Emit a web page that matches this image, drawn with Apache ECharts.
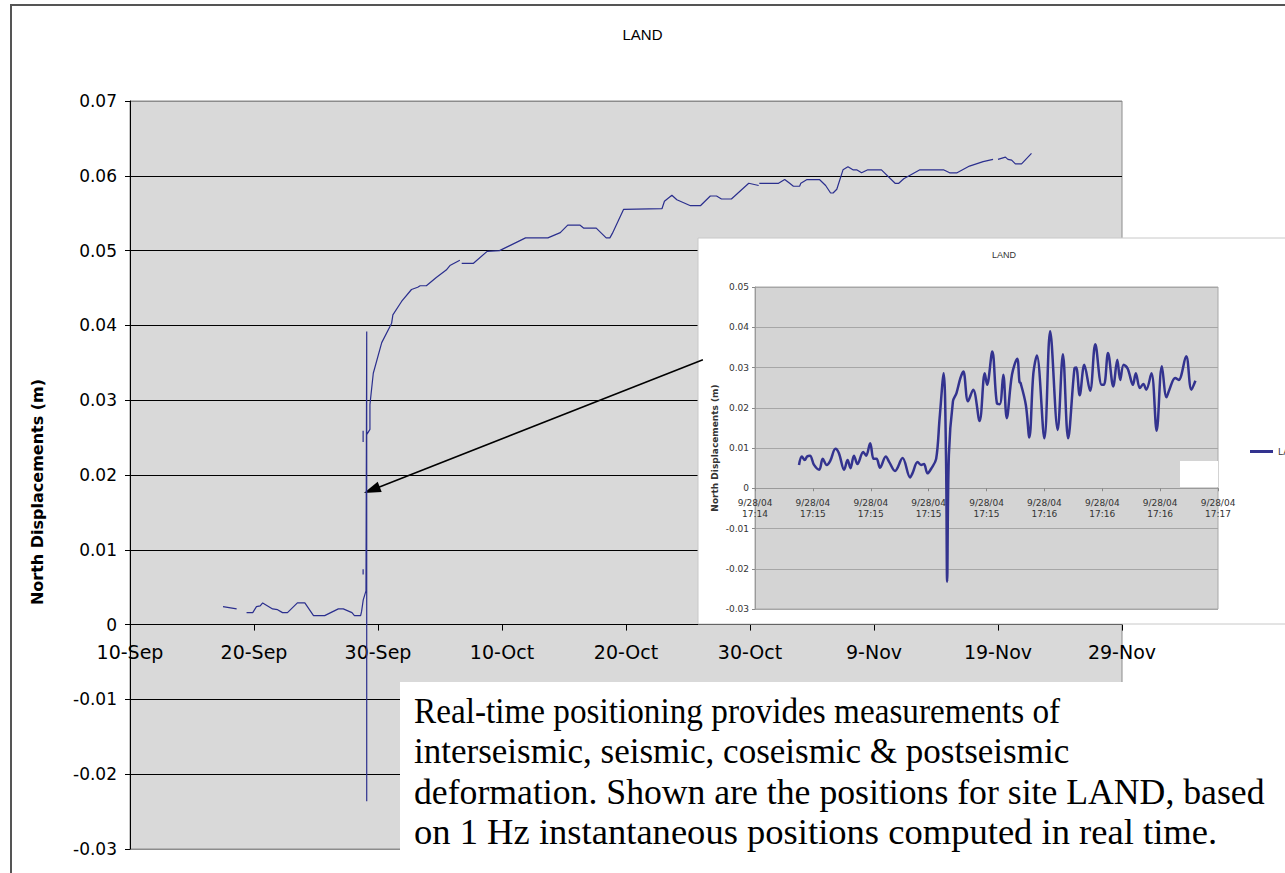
<!DOCTYPE html>
<html><head><meta charset="utf-8">
<script src="https://cdn.jsdelivr.net/npm/echarts/dist/echarts.min.js"></script>
<style>html,body{margin:0;padding:0;background:#fff}#c{width:1285px;height:873px}</style>
</head><body><div id="c"></div>
<script>
// ---------- main chart (days since 10-Sep-2004, north displacement in m) ----------
const xTickLabels = ['10-Sep','20-Sep','30-Sep','10-Oct','20-Oct','30-Oct','9-Nov','19-Nov','29-Nov'];
const yTickLabels = ['-0.03','-0.02','-0.01','0','0.01','0.02','0.03','0.04','0.05','0.06','0.07'];

const preEventShort = [[7.5,0.0024],[8.6,0.0021]];
const interseismic = [[9.4,0.0016],[9.9,0.0016],[10.2,0.0024],[10.5,0.0025],[10.7,0.0029],[11.1,0.0025],[11.5,0.0021],[11.9,0.0020],[12.3,0.0016],[12.7,0.0016],[13.5,0.0029],[14.1,0.0029],[14.8,0.0012],[15.7,0.0012],[16.8,0.0021],[17.2,0.0021],[17.9,0.0016],[18.1,0.0012],[18.6,0.0012],[18.68,0.0018],[18.81,0.0033],[19.03,0.0045]];
const coseismic = [[19.09,0.0392],[19.09,-0.0236],[19.09,0.0254]];
const postseismicA = [[19.35,0.0261],[19.35,0.0294],[19.62,0.0336],[20.3,0.0377],[21.1,0.0403],[21.2,0.0414],[21.9,0.0432],[22.7,0.0448],[23.2,0.0451],[23.4,0.0453],[23.9,0.0453],[24.7,0.0464],[25.5,0.0474],[25.8,0.0480],[26.6,0.0487]];
const postseismicB = [[26.75,0.0483],[27.7,0.0483],[28.8,0.0499],[29.8,0.0500],[31.9,0.0517],[33.7,0.0517],[34.7,0.0524],[35.3,0.0534],[36.3,0.0534],[36.6,0.0530],[37.6,0.0530],[38.4,0.0517],[38.7,0.0517],[38.9,0.0523],[39.8,0.0555],[42.9,0.0556],[43.1,0.0566],[43.7,0.0574],[44.1,0.0568],[45.2,0.0560],[46.0,0.0560],[46.8,0.0573],[47.3,0.0573],[47.7,0.0569],[48.5,0.0569],[49.9,0.0590],[50.7,0.0587]];
const postseismicC = [[50.75,0.0590],[52.3,0.0590],[52.8,0.0595],[53.2,0.0590],[53.5,0.0586],[54.0,0.0586],[54.1,0.0590],[54.6,0.0595],[55.6,0.0595],[56.1,0.0587],[56.5,0.0577],[56.7,0.0577],[57.0,0.0582],[57.5,0.0608],[57.9,0.0612],[58.3,0.0608],[58.6,0.0608],[59.0,0.0604],[59.5,0.0608],[60.6,0.0608],[61.7,0.0590],[62.0,0.0590],[62.4,0.0596],[63.7,0.0608],[65.6,0.0608],[66.1,0.0604],[66.7,0.0604],[67.7,0.0613],[68.8,0.0619],[69.6,0.0622]];
const postseismicD = [[70.0,0.0622],[70.6,0.0625],[70.8,0.0622],[71.1,0.0621],[71.4,0.0616],[71.9,0.0616],[72.7,0.0630]];
const strayA = [[18.8,0.0074],[18.8,0.0067]];
const strayB = [[18.8,0.0259],[18.8,0.0244]];

// arrow annotation (data units of main chart)
const arrowFrom = [46.2, 0.0354];
const arrowTo = [19.5, 0.0180];

// ---------- inset (1 Hz, x in tick-label units) ----------
const insetTickLabels = ['9/28/04\n17:14','9/28/04\n17:15','9/28/04\n17:15','9/28/04\n17:15','9/28/04\n17:15','9/28/04\n17:16','9/28/04\n17:16','9/28/04\n17:16','9/28/04\n17:17'];
const insetYTickLabels = ['-0.03','-0.02','-0.01','0','0.01','0.02','0.03','0.04','0.05'];
const insetX = [0.76,0.81,0.86,0.90,0.95,1.02,1.11,1.17,1.24,1.30,1.39,1.45,1.54,1.60,1.65,1.71,1.77,1.87,1.92,1.99,2.05,2.10,2.16,2.26,2.32,2.42,2.55,2.68,2.72,2.81,2.87,2.92,2.98,3.05,3.13,3.19,3.26,3.30,3.32,3.35,3.42,3.48,3.55,3.60,3.68,3.77,3.88,3.97,4.01,4.10,4.18,4.23,4.29,4.35,4.44,4.53,4.57,4.59,4.68,4.74,4.81,4.87,5.00,5.10,5.23,5.32,5.41,5.52,5.55,5.61,5.69,5.79,5.88,5.99,6.03,6.10,6.19,6.26,6.31,6.37,6.44,6.53,6.58,6.65,6.71,6.76,6.85,6.94,7.03,7.11,7.16,7.26,7.32,7.45,7.54,7.61];
const insetY = [0.0058,0.0079,0.0070,0.0079,0.0081,0.0058,0.0046,0.0073,0.0058,0.0068,0.0098,0.0087,0.0046,0.0070,0.0050,0.0081,0.0060,0.0090,0.0081,0.0112,0.0073,0.0073,0.0051,0.0079,0.0065,0.0043,0.0075,0.0027,0.0037,0.0065,0.0058,0.0060,0.0037,0.0050,0.0073,0.0174,0.0286,0.0083,-0.0232,0.0083,0.0216,0.0236,0.0274,0.0290,0.0216,0.0245,0.0167,0.0286,0.0257,0.0340,0.0211,0.0209,0.0282,0.0174,0.0282,0.0322,0.0264,0.0261,0.0207,0.0126,0.0286,0.0330,0.0124,0.0390,0.0145,0.0333,0.0124,0.0298,0.0300,0.0231,0.0307,0.0242,0.0358,0.0257,0.0257,0.0336,0.0253,0.0319,0.0269,0.0307,0.0297,0.0257,0.0286,0.0249,0.0259,0.0245,0.0286,0.0143,0.0303,0.0226,0.0245,0.0274,0.0269,0.0328,0.0245,0.0267];

const captionLines = [
  'Real-time positioning provides measurements of',
  'interseismic, seismic, coseismic & postseismic',
  'deformation. Shown are the positions for site LAND, based',
  'on 1 Hz instantaneous positions computed in real time.'
];
const captionStretch = [0.95, 1.0, 1.02, 1.045];

function joinSegments(segs) {
  const out = [];
  segs.forEach((s, i) => { if (i) out.push([null, null]); s.forEach(p => out.push(p)); });
  return out;
}
const mainData = joinSegments([preEventShort, interseismic.concat(coseismic, postseismicA), postseismicB, postseismicC, postseismicD, strayA, strayB]);
const insetData = insetX.map((x, i) => [x, insetY[i]]);

const splitColors = yTickLabels.map((_, i) => (i === 0 || i === yTickLabels.length - 1) ? '#8c8c8c' : '#000');

// grid geometry (layout)
const G0 = {left: 130, top: 101, width: 992, height: 748};
const G1 = {left: 755, top: 287, width: 463, height: 322};
// distance from grid bottom to the zero line (x axes sit on y = 0)
const g0ZeroOffset = G0.height * 0.03 / 0.10;
const g1ZeroOffset = G1.height * 0.03 / 0.08;

const chart = echarts.init(document.getElementById('c'), null, {renderer: 'svg'});
chart.setOption({
  animation: false,
  title: [
    {text: 'LAND', left: 'center', top: 22, textStyle: {fontFamily: 'Liberation Sans', fontSize: 15, fontWeight: 'normal', color: '#000'}},
    {text: 'LAND', left: 987, top: 245, z: 8, textStyle: {fontFamily: 'Liberation Sans', fontSize: 9, fontWeight: 'normal', color: '#333'}}
  ],
  legend: {data: ['LAND'], left: 1245, top: 442, icon: 'rect', itemWidth: 23, itemHeight: 3, itemGap: 4, z: 9,
    textStyle: {fontFamily: 'DejaVu Sans', fontSize: 9, color: '#333'}},
  grid: [
    Object.assign({show: true, backgroundColor: '#d9d9d9', borderColor: '#8c8c8c', borderWidth: 1, z: 0, outerBoundsMode: 'none', containLabel: false}, G0),
    Object.assign({show: true, backgroundColor: '#d4d4d4', borderColor: '#a8a8a8', borderWidth: 1, z: 6, outerBoundsMode: 'none', containLabel: false}, G1)
  ],
  xAxis: [
    {type: 'value', gridIndex: 0, min: 0, max: 80, interval: 10, z: 1, position: 'bottom', offset: -g0ZeroOffset,
      axisLine: {onZero: false, lineStyle: {color: '#000', width: 1}},
      axisTick: {show: true, length: 6, lineStyle: {color: '#000'}},
      axisLabel: {formatter: v => xTickLabels[Math.round(v / 10)], fontFamily: 'DejaVu Sans', fontSize: 19, color: '#000', margin: 18},
      splitLine: {show: false}},
    {type: 'value', gridIndex: 1, min: 0, max: 8, interval: 1, z: 7, position: 'bottom', offset: -g1ZeroOffset,
      axisLine: {onZero: false, lineStyle: {color: '#9a9a9a'}},
      axisTick: {show: true, length: 3, lineStyle: {color: '#888'}},
      axisLabel: {formatter: v => insetTickLabels[Math.round(v)], fontFamily: 'DejaVu Sans', fontSize: 9, lineHeight: 11, color: '#333', margin: 9},
      splitLine: {show: false}}
  ],
  yAxis: [
    {type: 'value', gridIndex: 0, min: -0.03, max: 0.07, interval: 0.01, z: 1,
      axisLine: {show: true, onZero: false, lineStyle: {color: '#000'}},
      axisTick: {show: true, length: 5, lineStyle: {color: '#000'}},
      axisLabel: {formatter: v => yTickLabels[Math.round((v + 0.03) / 0.01)], fontFamily: 'DejaVu Sans', fontSize: 17, color: '#000', margin: 13},
      splitLine: {show: true, lineStyle: {color: splitColors, width: 1}},
      name: 'North Displacements (m)', nameLocation: 'middle', nameGap: 85, nameRotate: 90,
      nameTextStyle: {fontFamily: 'DejaVu Sans', fontWeight: 'bold', fontSize: 16, color: '#000', padding: [0, 34, 0, 0]}},
    {type: 'value', gridIndex: 1, min: -0.03, max: 0.05, interval: 0.01, z: 7,
      axisLine: {show: true, onZero: false, lineStyle: {color: '#9a9a9a'}},
      axisTick: {show: true, length: 3, lineStyle: {color: '#888'}},
      axisLabel: {formatter: v => insetYTickLabels[Math.round((v + 0.03) / 0.01)], fontFamily: 'DejaVu Sans', fontSize: 9, color: '#333', margin: 6},
      splitLine: {show: true, lineStyle: {color: '#a6a6a6', width: 1}},
      name: 'North Displacements (m)', nameLocation: 'middle', nameGap: 36, nameRotate: 90,
      nameTextStyle: {fontFamily: 'DejaVu Sans', fontWeight: 'bold', fontSize: 9, color: '#333'}}
  ],
  series: [
    {type: 'line', name: 'LAND (daily)', xAxisIndex: 0, yAxisIndex: 0, data: mainData, z: 10,
      showSymbol: false, symbol: 'none', connectNulls: false,
      lineStyle: {color: '#2b2f8e', width: 1.2}, itemStyle: {color: '#2b2f8e'},
      markLine: {silent: true, symbol: ['none', 'triangle'], symbolSize: [11, 17], animation: false,
        lineStyle: {color: '#000', width: 1.5, type: 'solid'}, label: {show: false},
        data: [[{coord: arrowFrom}, {coord: arrowTo}]]}},
    {type: 'line', name: 'LAND', xAxisIndex: 1, yAxisIndex: 1, data: insetData, z: 9,
      smooth: 0.35, showSymbol: false, symbol: 'none',
      lineStyle: {color: '#33338f', width: 2.5}, itemStyle: {color: '#33338f'}}
  ],
  graphic: {elements: [
    {type: 'rect', z: 5, silent: true, shape: {x: 698, y: 238, width: 600, height: 386}, style: {fill: '#fff', stroke: '#c8c8c8', lineWidth: 1}},
    {type: 'rect', z: 8, silent: true, shape: {x: 1180, y: 461, width: 38, height: 26}, style: {fill: '#fff'}},
    {type: 'rect', z: 11, silent: true, shape: {x: 400, y: 682, width: 900, height: 200}, style: {fill: '#fff'}},
    ...captionLines.map((t, i) => ({type: 'text', z: 12, silent: true, x: 414, y: 711 + i * 40.5, scaleX: captionStretch[i],
      style: {text: t, font: '35px "Liberation Serif"', fill: '#000', verticalAlign: 'middle', align: 'left'}})),
    {type: 'rect', z: 13, silent: true, shape: {x: 11, y: 5, width: 1300, height: 900}, style: {fill: 'none', stroke: '#555', lineWidth: 2}}
  ]}
});
</script></body></html>
